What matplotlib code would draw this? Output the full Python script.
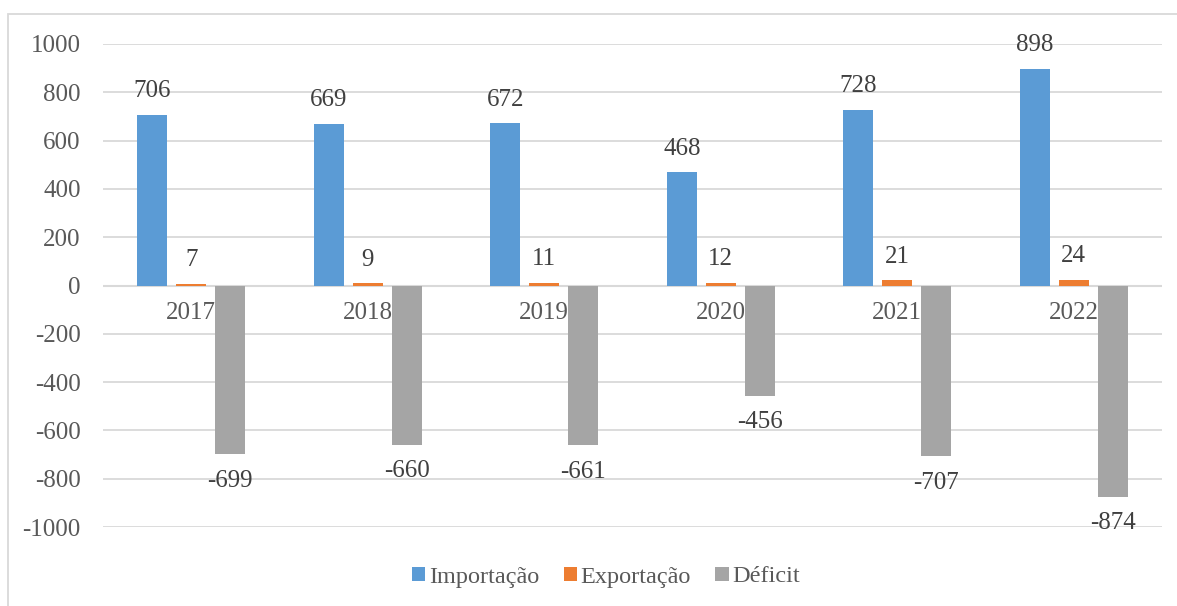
import numpy as np
import matplotlib.pyplot as plt
from matplotlib.patches import Rectangle

anos = ["2017", "2018", "2019", "2020", "2021", "2022"]
importacao = [706, 669, 672, 468, 728, 898]
exportacao = [7, 9, 11, 12, 21, 24]
deficit = [-699, -660, -661, -456, -707, -874]

plt.rcParams['font.family'] = ['Liberation Serif', 'DejaVu Serif']
plt.rcParams['axes.unicode_minus'] = False

fig = plt.figure(figsize=(11.77, 6.06), dpi=100)
ax = fig.add_axes([103/1177, 1-527/606, (1162-103)/1177, (527-44)/606])

x = np.arange(len(anos))
w = 0.17
series = [("Importação", importacao, "#5b9bd5", -0.22),
          ("Exportação", exportacao, "#ed7d31", 0.0),
          ("Déficit", deficit, "#a5a5a5", 0.22)]

for name, vals, cor, off in series:
    bars = ax.bar(x + off, vals, w, color=cor, label=name, zorder=3)
    for b, v in zip(bars, vals):
        dy = 17 if v >= 0 else -19
        ax.annotate(str(v), (b.get_x() + b.get_width()/2, v), xytext=(0, dy),
                    textcoords="offset points", ha="center", va="center",
                    fontsize=18, color="#404040", zorder=5)

# category labels sit just under the zero line
for i, a in enumerate(anos):
    ax.annotate(a, (i, 0), xytext=(0, -20), textcoords="offset points",
                ha="center", va="center", fontsize=18, color="#595959", zorder=2)

ax.set_xlim(-0.5, len(anos) - 0.5)
ax.set_ylim(-1000, 1000)
ax.set_yticks(np.arange(-1000, 1001, 200))
ax.set_xticks([])
ax.tick_params(axis="y", length=0, labelsize=18, labelcolor="#595959", pad=16)
ax.grid(axis="y", color="#d9d9d9", linewidth=1.3, zorder=0)
ax.axhline(0, color="#d9d9d9", linewidth=1.5, zorder=1)
for s in ax.spines.values():
    s.set_visible(False)

fig.legend(loc="center", bbox_to_anchor=(606/1177, 1-577/606), ncol=3,
           frameon=False, fontsize=17.5, handlelength=0.55, handleheight=0.55,
           handletextpad=0.15, columnspacing=1.0, labelcolor="#595959")

fig.patches.append(Rectangle((8/1177, -0.01), 1.0, 1-14/606 + 0.01,
                             transform=fig.transFigure, fill=False,
                             edgecolor="#d9d9d9", linewidth=1.3))

fig.savefig("out.png", dpi=100)
